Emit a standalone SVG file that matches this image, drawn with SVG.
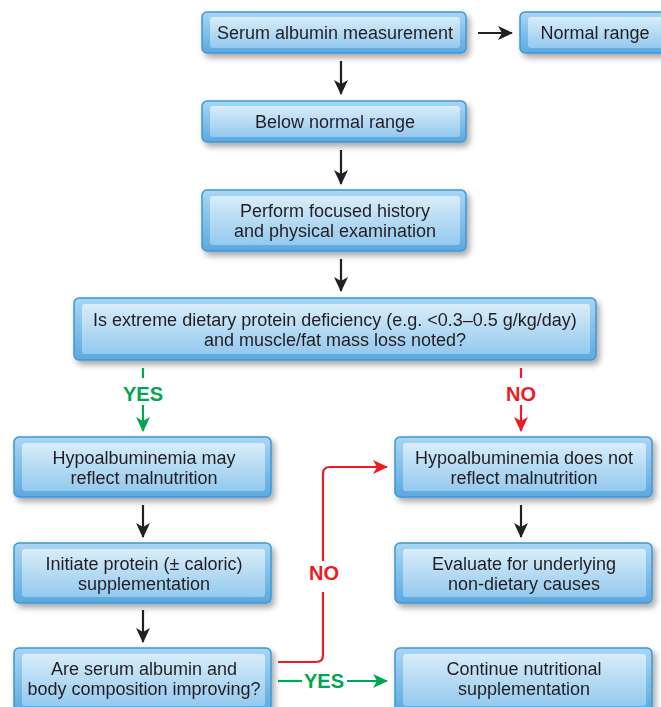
<svg xmlns="http://www.w3.org/2000/svg" width="661" height="707" viewBox="0 0 661 707">
<defs>
<linearGradient id="gOut" x1="0" y1="0" x2="0" y2="1">
<stop offset="0" stop-color="#a9d6f3"/>
<stop offset="1" stop-color="#5aa9e0"/>
</linearGradient>
<linearGradient id="gIn" x1="0" y1="0" x2="0" y2="1">
<stop offset="0" stop-color="#d8edfa"/>
<stop offset="1" stop-color="#94c9ee"/>
</linearGradient>
<filter id="sh" x="-10%" y="-20%" width="125%" height="160%">
<feGaussianBlur in="SourceAlpha" stdDeviation="3"/>
<feOffset dx="3" dy="4" result="b"/>
<feComponentTransfer><feFuncA type="linear" slope="0.35"/></feComponentTransfer>
<feMerge><feMergeNode/><feMergeNode in="SourceGraphic"/></feMerge>
</filter>
<marker id="ak" viewBox="0 0 15 15" refX="14" refY="7.5" markerWidth="15" markerHeight="15" markerUnits="userSpaceOnUse" orient="auto">
<path d="M0,0.5 L15,7.5 L0,14.5 L4,7.5 Z" fill="#231f20"/>
</marker>
<marker id="ar" viewBox="0 0 15 15" refX="14" refY="7.5" markerWidth="15" markerHeight="15" markerUnits="userSpaceOnUse" orient="auto">
<path d="M0,0.5 L15,7.5 L0,14.5 L4,7.5 Z" fill="#ed1c24"/>
</marker>
<marker id="ag" viewBox="0 0 15 15" refX="14" refY="7.5" markerWidth="15" markerHeight="15" markerUnits="userSpaceOnUse" orient="auto">
<path d="M0,0.5 L15,7.5 L0,14.5 L4,7.5 Z" fill="#00a651"/>
</marker>
</defs>
<style>
.o{fill:url(#gOut);stroke:#3f97d6;stroke-width:1.5}
.i{fill:url(#gIn)}
.t{font-family:"Liberation Sans",Arial,sans-serif;font-size:18px;fill:#231f20;text-anchor:middle}
.k{stroke:#231f20;stroke-width:2.2;fill:none}
.r{stroke:#ed1c24;stroke-width:2.2;fill:none}
.g{stroke:#00a651;stroke-width:2.2;fill:none}
.lr{font-family:"Liberation Sans",Arial,sans-serif;font-size:20px;font-weight:bold;fill:#ed1c24;text-anchor:middle}
.lg{font-family:"Liberation Sans",Arial,sans-serif;font-size:20px;font-weight:bold;fill:#00a651;text-anchor:middle}
</style>
<rect width="661" height="707" fill="#ffffff"/>

<g id="n1" filter="url(#sh)"><rect class="o" x="202" y="12" width="264" height="41" rx="5"/><rect class="i" x="210" y="17" width="250" height="31" rx="3"/><text class="t" x="335" y="39">Serum albumin measurement</text></g>
<g id="n2" filter="url(#sh)"><rect class="o" x="520" y="12" width="150" height="41" rx="5"/><rect class="i" x="528" y="17" width="140" height="31" rx="3"/><text class="t" x="595" y="39">Normal range</text></g>
<g id="n3" filter="url(#sh)"><rect class="o" x="202" y="101" width="264" height="41" rx="5"/><rect class="i" x="210" y="106" width="250" height="31" rx="3"/><text class="t" x="335" y="128">Below normal range</text></g>
<g id="n4" filter="url(#sh)"><rect class="o" x="202" y="190" width="264" height="61" rx="5"/><rect class="i" x="210" y="196" width="250" height="49" rx="3"/><text class="t" x="335" y="217">Perform focused history</text><text class="t" x="335" y="237">and physical examination</text></g>
<g id="n5" filter="url(#sh)"><rect class="o" x="74" y="298" width="522" height="62" rx="5"/><rect class="i" x="82" y="304" width="508" height="50" rx="3"/><text class="t" x="335" y="326">Is extreme dietary protein deficiency (e.g. &lt;0.3–0.5 g/kg/day)</text><text class="t" x="335" y="346">and muscle/fat mass loss noted?</text></g>
<g id="n6" filter="url(#sh)"><rect class="o" x="14" y="437" width="257" height="60" rx="5"/><rect class="i" x="22" y="443" width="243" height="48" rx="3"/><text class="t" x="144" y="464">Hypoalbuminemia may</text><text class="t" x="144" y="484">reflect malnutrition</text></g>
<g id="n7" filter="url(#sh)"><rect class="o" x="395" y="437" width="257" height="60" rx="5"/><rect class="i" x="403" y="443" width="243" height="48" rx="3"/><text class="t" x="524" y="464">Hypoalbuminemia does not</text><text class="t" x="524" y="484">reflect malnutrition</text></g>
<g id="n8" filter="url(#sh)"><rect class="o" x="14" y="543" width="257" height="60" rx="5"/><rect class="i" x="22" y="549" width="243" height="48" rx="3"/><text class="t" x="144" y="570">Initiate protein (± caloric)</text><text class="t" x="144" y="590">supplementation</text></g>
<g id="n9" filter="url(#sh)"><rect class="o" x="395" y="543" width="257" height="60" rx="5"/><rect class="i" x="403" y="549" width="243" height="48" rx="3"/><text class="t" x="524" y="570">Evaluate for underlying</text><text class="t" x="524" y="590">non-dietary causes</text></g>
<g id="n10" filter="url(#sh)"><rect class="o" x="14" y="648" width="257" height="64" rx="5"/><rect class="i" x="22" y="654" width="243" height="52" rx="3"/><text class="t" x="144" y="675">Are serum albumin and</text><text class="t" x="144" y="695">body composition improving?</text></g>
<g id="n11" filter="url(#sh)"><rect class="o" x="395" y="648" width="257" height="64" rx="5"/><rect class="i" x="403" y="654" width="243" height="52" rx="3"/><text class="t" x="524" y="675">Continue nutritional</text><text class="t" x="524" y="695">supplementation</text></g>

<g id="connectors">
<line class="k" x1="478" y1="33" x2="512" y2="33" marker-end="url(#ak)"/>
<line class="k" x1="341" y1="61" x2="341" y2="94" marker-end="url(#ak)"/>
<line class="k" x1="341" y1="150" x2="341" y2="184" marker-end="url(#ak)"/>
<line class="k" x1="341" y1="259" x2="341" y2="291" marker-end="url(#ak)"/>
<line class="k" x1="143" y1="505" x2="143" y2="537" marker-end="url(#ak)"/>
<line class="k" x1="143" y1="610" x2="143" y2="642" marker-end="url(#ak)"/>
<line class="k" x1="521" y1="505" x2="521" y2="537" marker-end="url(#ak)"/>
<line class="g" x1="143" y1="368" x2="143" y2="378"/>
<text class="lg" x="143" y="401">YES</text>
<line class="g" x1="143" y1="405" x2="143" y2="431" marker-end="url(#ag)"/>
<line class="r" x1="521" y1="368" x2="521" y2="378"/>
<text class="lr" x="521" y="401">NO</text>
<line class="r" x1="521" y1="405" x2="521" y2="431" marker-end="url(#ar)"/>
<path class="r" d="M278,662 H316 Q323,662 323,655 V592"/>
<text class="lr" x="324" y="580">NO</text>
<path class="r" d="M323,561 V474 Q323,467 330,467 H387" marker-end="url(#ar)"/>
<line class="g" x1="278" y1="681" x2="302" y2="681"/>
<text class="lg" x="324" y="688">YES</text>
<line class="g" x1="347" y1="681" x2="387" y2="681" marker-end="url(#ag)"/>
</g>
</svg>
